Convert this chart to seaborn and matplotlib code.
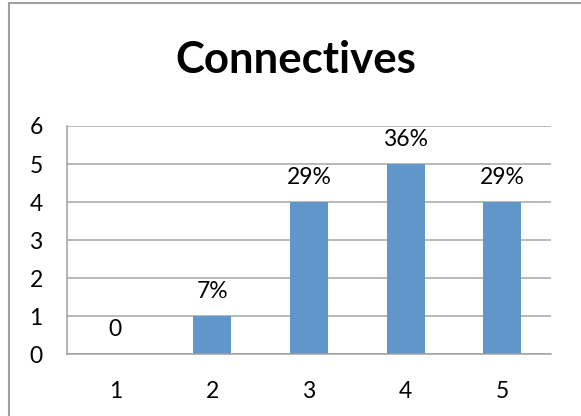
import matplotlib
matplotlib.use("Agg")
import matplotlib.pyplot as plt
import seaborn as sns
import pandas as pd
from matplotlib.lines import Line2D

categories = ["1", "2", "3", "4", "5"]
values = [0, 1, 4, 5, 4]
labels = ["0", "7%", "29%", "36%", "29%"]
title = "Connectives"

sns.set_style("white")
plt.rcParams['font.family'] = ['Lato', 'DejaVu Sans']
plt.rcParams['text.color'] = 'black'

fig = plt.figure(figsize=(5.81, 4.16), dpi=100)
ax = fig.add_axes([67/581, 1-354.3/416, (550.7-67)/581, (354.3-126)/416])

df = pd.DataFrame({"cat": categories, "val": values})
sns.barplot(data=df, x="cat", y="val", color="#6196CA", saturation=1, width=0.393,
            linewidth=0, ax=ax)

ax.set_ylim(0, 6)
ax.set_xlim(-0.5, 4.5)
ax.set_yticks(range(0, 7))
ax.yaxis.grid(True, color="#A6A6A6", linewidth=1.1)
ax.set_axisbelow(True)
for s in ["top", "right"]:
    ax.spines[s].set_visible(False)
for s in ["left", "bottom"]:
    ax.spines[s].set_color("#A0A0A0")
    ax.spines[s].set_linewidth(1.1)

ax.set_xlabel("")
ax.set_ylabel("")
fs = 16.5
ax.tick_params(axis="x", which="major", length=0, pad=19, labelsize=fs, labelcolor="black")
ax.set_xticks([i - 0.5 for i in range(6)], minor=True)
ax.tick_params(axis="x", which="minor", length=6, width=1.1, color="#A0A0A0", direction="out")
ax.tick_params(axis="y", length=6.5, width=1.1, color="#A0A0A0", pad=11, labelsize=fs,
               labelcolor="black")
ax.tick_params(axis="x", bottom=True)

ax.bar_label(ax.containers[0], labels=labels, padding=10, fontsize=fs, color="black")

fig.text(296/581, 1-60/416, title, ha="center", va="center", fontsize=31.5,
         fontweight="bold", color="black")

fig.add_artist(Line2D([9/581, 9/581], [0, 1-3/416], transform=fig.transFigure,
                      color="#A0A0A0", linewidth=1.5))
fig.add_artist(Line2D([9/581, 1], [1-3/416, 1-3/416], transform=fig.transFigure,
                      color="#A0A0A0", linewidth=1.5))

fig.savefig("out.png", dpi=100)
